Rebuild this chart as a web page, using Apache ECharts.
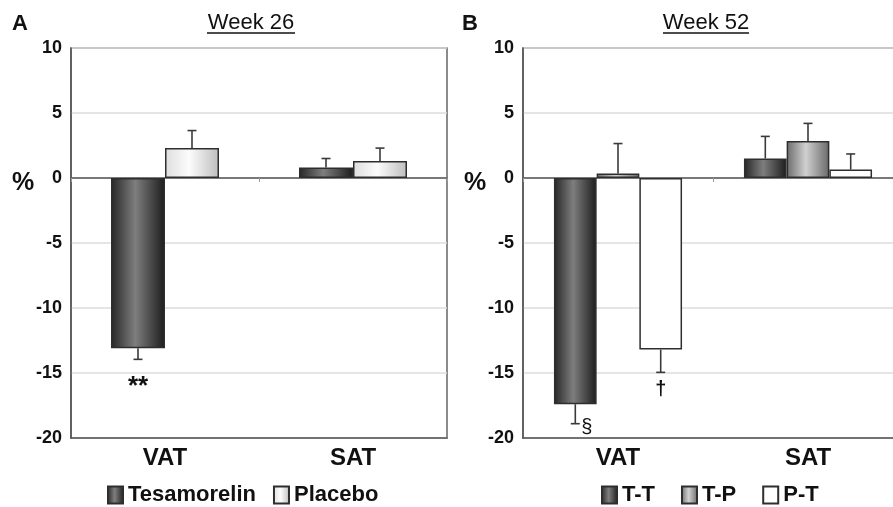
<!DOCTYPE html>
<html>
<head>
<meta charset="utf-8">
<script src="https://cdn.jsdelivr.net/npm/echarts@6/dist/echarts.min.js"></script>
<style>
html,body{margin:0;padding:0;background:#fff;overflow:hidden;width:893px;height:507px;}
#chart{width:912px;height:507px;}
</style>
</head>
<body>
<div id="chart"></div>
<script>
// ---- data ----
const categories = ['VAT', 'SAT'];

// Week 26 (panel A)
const tesamorelin26 = [-13.1, 0.8];
const tesamorelin26Err = [0.85, 0.7];
const placebo26 = [2.3, 1.3];
const placebo26Err = [1.35, 1.0];

// Week 52 (panel B)
const tt52 = [-17.4, 1.5];
const tt52Err = [1.5, 1.7];
const tp52 = [0.35, 2.85];
const tp52Err = [2.3, 1.35];
const pt52 = [-13.2, 0.65];
const pt52Err = [1.75, 1.2];

// significance marks
const tesamorelin26Mark = ['**', ''];
const tt52Mark = ['\u00a7', ''];
const pt52Mark = ['\u2020', ''];

const yMin = -20, yMax = 10, yStep = 5;

// ---- styles ----
const FONT = 'Liberation Sans, Arial, sans-serif';
function grad(stops) {
  return {type: 'linear', x: 0, y: 0, x2: 1, y2: 0,
    colorStops: stops.map(s => ({offset: s[0], color: s[1]}))};
}
const fillDark = grad([[0, '#262626'], [0.45, '#7e7e7e'], [1, '#1c1c1c']]);
const fillLight = grad([[0, '#dedede'], [0.45, '#fcfcfc'], [1, '#bdbdbd']]);
const fillMid = grad([[0, '#6c6c6c'], [0.45, '#d0d0d0'], [1, '#686868']]);
const fillWhite = '#ffffff';

const chart = echarts.init(document.getElementById('chart'), null, {renderer: 'canvas'});

function barSeries(name, data, fill, xi, yi, barWidth) {
  return {
    name, type: 'bar', data, xAxisIndex: xi, yAxisIndex: yi,
    barWidth, barGap: '0%',
    itemStyle: {color: fill, borderColor: '#2e2e2e', borderWidth: 1.5},
    emphasis: {disabled: true}, z: 2
  };
}

function errSeries(vals, errs, marks, xi, yi, idx, n, bw, markStyle) {
  return {
    type: 'custom', xAxisIndex: xi, yAxisIndex: yi, z: 3, silent: true,
    data: vals.map((v, i) => [i, v, errs[i]]),
    renderItem: function (params, api) {
      const ci = api.value(0), v = api.value(1), e = api.value(2);
      const base = api.coord([ci, v]);
      const x = base[0] + (idx - (n - 1) / 2) * bw;
      const end = api.coord([ci, v + (v < 0 ? -e : e)]);
      const y0 = base[1], y1 = end[1];
      const st = {stroke: '#3a3a3a', lineWidth: 1.6};
      const children = [
        {type: 'line', shape: {x1: x, y1: y0, x2: x, y2: y1}, style: st},
        {type: 'line', shape: {x1: x - 4.5, y1: y1, x2: x + 4.5, y2: y1}, style: st}
      ];
      const m = marks ? marks[ci] : '';
      if (m) {
        const ms = markStyle(m);
        children.push({type: 'text', x: x + ms.dx, y: y1 + ms.dy,
          style: {text: m, font: ms.font, fill: '#111', align: ms.align, verticalAlign: ms.va}});
      }
      return {type: 'group', children};
    }
  };
}

function markStyle(m) {
  if (m === '**') return {dx: 0, dy: 14, font: 'bold 26px ' + FONT, align: 'center', va: 'top'};
  if (m === '\u00a7') return {dx: 6, dy: 4, font: '20px ' + FONT, align: 'left', va: 'middle'};
  return {dx: 0, dy: 7, font: 'bold 20px ' + FONT, align: 'center', va: 'top'};
}

const bwA = 54, bwB = 42.7;

function yAxis(gi) {
  return {
    type: 'value', gridIndex: gi, min: yMin, max: yMax, interval: yStep,
    axisLine: {show: true, lineStyle: {color: '#555', width: 1.5}},
    axisTick: {show: false},
    axisLabel: {color: '#111', fontWeight: 'bold', fontSize: 18, fontFamily: FONT, margin: 9},
    splitLine: {show: true, lineStyle: {color: '#dcdcdc', width: 1.5}}
  };
}
function xAxisBottom(gi) {
  return {
    type: 'category', gridIndex: gi, data: categories, position: 'bottom',
    axisLine: {onZero: false, show: true, lineStyle: {color: '#555', width: 1.5}},
    axisTick: {show: false},
    axisLabel: {color: '#111', fontWeight: 'bold', fontSize: 24, fontFamily: FONT, margin: 8}
  };
}
function xAxisZero(gi) {
  return {
    type: 'category', gridIndex: gi, data: categories, position: 'top',
    axisLine: {onZero: true, show: true, lineStyle: {color: '#555', width: 1.5}},
    axisTick: {show: true, inside: true, length: 4, lineStyle: {color: '#999'}},
    axisLabel: {show: false}, splitLine: {show: false}
  };
}

const option = {
  backgroundColor: '#ffffff',
  animation: false,
  grid: [
    {left: 71, top: 48, width: 376, height: 390, show: true, borderColor: '#666', borderWidth: 1.5, containLabel: false},
    {left: 523, top: 48, width: 380, height: 390, show: true, borderColor: '#666', borderWidth: 1.5, containLabel: false}
  ],
  xAxis: [xAxisBottom(0), xAxisZero(0), xAxisBottom(1), xAxisZero(1)],
  yAxis: [yAxis(0), yAxis(1)],
  legend: [
    {data: ['Tesamorelin', 'Placebo'], left: 107, top: 484, padding: 0, itemWidth: 15, itemHeight: 17, itemGap: 17,
      icon: 'rect', selectedMode: false,
      textStyle: {color: '#111', fontWeight: 'bold', fontSize: 22, fontFamily: FONT}},
    {data: ['T-T', 'T-P', 'P-T'], left: 601, top: 484, padding: 0, itemWidth: 15, itemHeight: 17, itemGap: 26,
      icon: 'rect', selectedMode: false,
      textStyle: {color: '#111', fontWeight: 'bold', fontSize: 22, fontFamily: FONT}}
  ],
  graphic: [
    {type: 'text', left: 12, top: 13, style: {text: 'A', font: 'bold 22px ' + FONT, fill: '#111'}},
    {type: 'text', x: 251, y: 12, style: {text: 'Week 26', font: '22px ' + FONT, fill: '#111', align: 'center'}},
    {type: 'line', shape: {x1: 207, y1: 33, x2: 295, y2: 33}, style: {stroke: '#111', lineWidth: 1.3}},
    {type: 'text', x: 23, y: 183, style: {text: '%', font: 'bold 25px ' + FONT, fill: '#111', align: 'center', verticalAlign: 'middle'}},
    {type: 'text', left: 462, top: 13, style: {text: 'B', font: 'bold 22px ' + FONT, fill: '#111'}},
    {type: 'text', x: 706, y: 12, style: {text: 'Week 52', font: '22px ' + FONT, fill: '#111', align: 'center'}},
    {type: 'line', shape: {x1: 663, y1: 33, x2: 749, y2: 33}, style: {stroke: '#111', lineWidth: 1.3}},
    {type: 'text', x: 475, y: 183, style: {text: '%', font: 'bold 25px ' + FONT, fill: '#111', align: 'center', verticalAlign: 'middle'}}
  ],
  series: [
    barSeries('Tesamorelin', tesamorelin26, fillDark, 0, 0, bwA),
    barSeries('Placebo', placebo26, fillLight, 0, 0, bwA),
    errSeries(tesamorelin26, tesamorelin26Err, tesamorelin26Mark, 0, 0, 0, 2, bwA, markStyle),
    errSeries(placebo26, placebo26Err, null, 0, 0, 1, 2, bwA, markStyle),

    barSeries('T-T', tt52, fillDark, 2, 1, bwB),
    barSeries('T-P', tp52, fillMid, 2, 1, bwB),
    barSeries('P-T', pt52, fillWhite, 2, 1, bwB),
    errSeries(tt52, tt52Err, tt52Mark, 2, 1, 0, 3, bwB, markStyle),
    errSeries(tp52, tp52Err, null, 2, 1, 1, 3, bwB, markStyle),
    errSeries(pt52, pt52Err, pt52Mark, 2, 1, 2, 3, bwB, markStyle)
  ]
};
chart.setOption(option);
</script>
</body>
</html>
